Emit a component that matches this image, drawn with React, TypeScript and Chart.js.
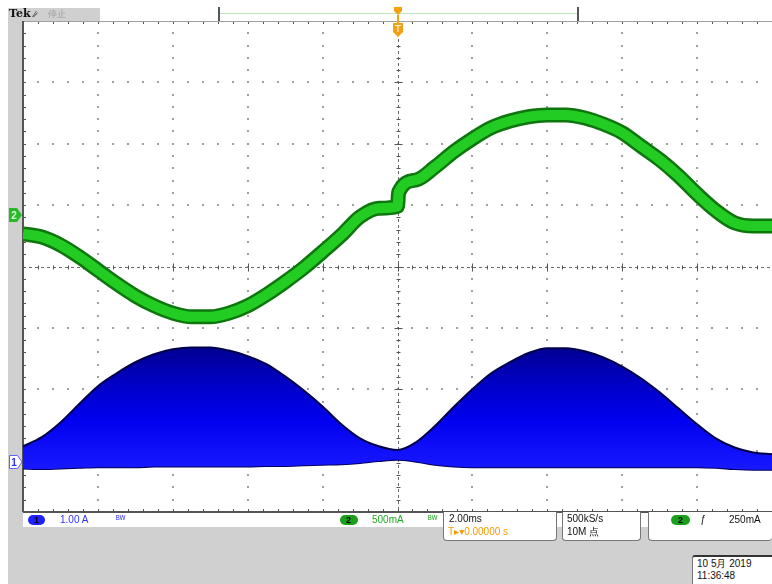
import React, { useEffect, useRef } from "react";
import { Chart, registerables } from "chart.js";

Chart.register(...registerables);

// ---- Data ----
// Horizontal: 2.00 ms/div, trigger at centre (0 ms)
const timeMs = [
  -10, -9.5, -9, -8.5, -8, -7.5, -7, -6.5, -6, -5.5, -5, -4.5, -4, -3.5, -3, -2.5, -2, -1.5, -1, -0.5, 0,
  0.5, 1, 1.5, 2, 2.5, 3, 3.5, 4, 4.5, 5, 5.5, 6, 6.5, 7, 7.5, 8, 8.5, 9, 9.5, 10,
];
// Channel 2 (green), 500 mA/div — includes the step just after the trigger
const ch2TimeMs = [
  -10, -9.5, -9, -8.5, -8, -7.5, -7, -6.5, -6, -5.5, -5, -4.5, -4, -3.5, -3, -2.5, -2, -1.5, -1, -0.5, 0,
  0.03, 0.5, 1, 1.5, 2, 2.5, 3, 3.5, 4, 4.5, 5, 5.5, 6, 6.5, 7, 7.5, 8, 8.5, 9, 9.5, 10,
];
const ch2mA = [
  -155, -180, -245, -340, -450, -560, -660, -740, -800, -830, -830, -800, -740, -650, -545, -430, -300, -165, -15, 55, 70,
  185, 285, 390, 515, 620, 710, 765, 800, 815, 815, 790, 740, 670, 560, 450, 320, 170, 35, -65, -90, -90,
];
// Channel 1 (blue), 1.00 A/div — upper and lower envelope of the chopped current
const ch1UpperA = [
  0.26, 0.41, 0.65, 0.95, 1.24, 1.45, 1.63, 1.76, 1.84, 1.87, 1.87, 1.82, 1.73, 1.6, 1.4, 1.17, 0.91, 0.62, 0.39, 0.26, 0.2,
  0.33, 0.59, 0.9, 1.19, 1.45, 1.63, 1.78, 1.86, 1.86, 1.81, 1.71, 1.56, 1.37, 1.14, 0.88, 0.62, 0.39, 0.24, 0.16, 0.13,
];
const ch1LowerA = [
  -0.1, -0.11, -0.1, -0.09, -0.08, -0.08, -0.08, -0.07, -0.07, -0.07, -0.07, -0.07, -0.07, -0.06, -0.06, -0.05, -0.04, -0.03, -0.01, 0.02, 0.04,
  0.01, -0.04, -0.07, -0.08, -0.08, -0.08, -0.08, -0.08, -0.08, -0.08, -0.08, -0.08, -0.08, -0.08, -0.08, -0.08, -0.09, -0.11, -0.12, -0.12,
];

// Channel settings
const CH1_SCALE_A = 1.0; // A/div
const CH1_POS_DIV = -3.19;
const CH2_SCALE_MA = 500; // mA/div
const CH2_POS_DIV = 0.84;

const FONT = '"Liberation Sans", "DejaVu Sans", sans-serif';

const toCh1 = (arr: number[]) => arr.map((v, i) => ({ x: timeMs[i], y: CH1_POS_DIV + v / CH1_SCALE_A }));
const toCh2 = () => ch2mA.map((v, i) => ({ x: ch2TimeMs[i], y: CH2_POS_DIV + v / CH2_SCALE_MA }));

const graticulePlugin = {
  id: "graticule",
  beforeDraw(chart: any) {
    const { ctx, chartArea: a } = chart;
    ctx.save();
    ctx.fillStyle = "#ffffff";
    ctx.fillRect(a.left, a.top, a.right - a.left, a.bottom - a.top);
    ctx.restore();
  },
  beforeDatasetsDraw(chart: any) {
    const { ctx, chartArea: a, scales } = chart;
    const xs = scales.x;
    const ys = scales.y;
    ctx.save();
    ctx.fillStyle = "#a0a0a0";
    // dotted vertical grid lines
    for (let i = 1; i < 10; i++) {
      const t = -10 + i * 2;
      if (t === 0) continue;
      const px = Math.round(xs.getPixelForValue(t));
      for (let j = 1; j < 40; j++) {
        const py = Math.round(ys.getPixelForValue(-4 + j * 0.2));
        ctx.fillRect(px - 1, py - 1, 2, 2);
      }
    }
    // dotted horizontal grid lines
    for (let i = 1; i < 8; i++) {
      const v = -4 + i;
      if (v === 0) continue;
      const py = Math.round(ys.getPixelForValue(v));
      for (let j = 1; j < 50; j++) {
        const px = Math.round(xs.getPixelForValue(-10 + j * 0.4));
        ctx.fillRect(px - 1, py - 1, 2, 2);
      }
    }
    // centre lines (dashed) with ticks
    const cx = Math.round(xs.getPixelForValue(0)) + 0.5;
    const cy = Math.round(ys.getPixelForValue(0)) + 0.5;
    ctx.strokeStyle = "#6a6a6a";
    ctx.lineWidth = 1;
    ctx.setLineDash([3, 3]);
    ctx.beginPath();
    ctx.moveTo(a.left, cy);
    ctx.lineTo(a.right, cy);
    ctx.moveTo(cx, a.top);
    ctx.lineTo(cx, a.bottom);
    ctx.stroke();
    ctx.setLineDash([]);
    ctx.strokeStyle = "#555";
    ctx.beginPath();
    for (let j = 1; j < 50; j++) {
      const px = Math.round(xs.getPixelForValue(-10 + j * 0.4)) + 0.5;
      const len = j % 5 === 0 ? 4 : 2;
      ctx.moveTo(px, cy - len);
      ctx.lineTo(px, cy + len);
      // top and bottom border ticks
      ctx.moveTo(px, a.top);
      ctx.lineTo(px, a.top + 3);
      ctx.moveTo(px, a.bottom);
      ctx.lineTo(px, a.bottom - 3);
    }
    for (let j = 1; j < 40; j++) {
      const py = Math.round(ys.getPixelForValue(-4 + j * 0.2)) + 0.5;
      const len = j % 5 === 0 ? 4 : 2;
      ctx.moveTo(cx - len, py);
      ctx.lineTo(cx + len, py);
      ctx.moveTo(a.left, py);
      ctx.lineTo(a.left + 3, py);
    }
    ctx.stroke();
    // borders
    ctx.strokeStyle = "#a0a0a0";
    ctx.beginPath();
    ctx.moveTo(a.left, a.top + 0.5);
    ctx.lineTo(a.right, a.top + 0.5);
    ctx.stroke();
    ctx.strokeStyle = "#555";
    ctx.lineWidth = 2;
    ctx.beginPath();
    ctx.moveTo(a.left, a.top);
    ctx.lineTo(a.left, a.bottom);
    ctx.moveTo(a.left, a.bottom);
    ctx.lineTo(a.right, a.bottom);
    ctx.stroke();
    ctx.restore();
  },
  afterDraw(chart: any) {
    const { ctx, scales } = chart;
    const xs = scales.x;
    const ys = scales.y;
    ctx.save();
    // trigger position marker (orange)
    const tx = Math.round(xs.getPixelForValue(0));
    ctx.fillStyle = "#f5a010";
    ctx.beginPath();
    ctx.moveTo(tx - 4, 7);
    ctx.lineTo(tx + 4, 7);
    ctx.lineTo(tx + 4, 11);
    ctx.lineTo(tx, 15);
    ctx.lineTo(tx - 4, 11);
    ctx.closePath();
    ctx.fill();
    ctx.fillRect(tx - 1, 15, 2, 8);
    ctx.beginPath();
    ctx.moveTo(tx - 5, 23);
    ctx.lineTo(tx + 5, 23);
    ctx.lineTo(tx + 5, 32);
    ctx.lineTo(tx, 37);
    ctx.lineTo(tx - 5, 32);
    ctx.closePath();
    ctx.fill();
    ctx.fillStyle = "#ffffff";
    ctx.fillRect(tx - 3, 25, 6, 1);
    ctx.fillRect(tx - 0.5, 25, 1, 7);

    // channel ground markers on the left strip
    const y2 = Math.round(ys.getPixelForValue(CH2_POS_DIV));
    ctx.fillStyle = "#28b828";
    ctx.beginPath();
    ctx.moveTo(9, y2 - 7);
    ctx.lineTo(17, y2 - 7);
    ctx.lineTo(22, y2);
    ctx.lineTo(17, y2 + 7);
    ctx.lineTo(9, y2 + 7);
    ctx.closePath();
    ctx.fill();
    ctx.fillStyle = "#d8ffd8";
    ctx.font = `bold 10px ${FONT}`;
    ctx.textAlign = "center";
    ctx.textBaseline = "middle";
    ctx.fillText("2", 14, y2 + 1);

    const y1 = Math.round(ys.getPixelForValue(CH1_POS_DIV));
    ctx.fillStyle = "#ffffff";
    ctx.strokeStyle = "#6060ff";
    ctx.lineWidth = 1;
    ctx.beginPath();
    ctx.moveTo(9.5, y1 - 6.5);
    ctx.lineTo(17.5, y1 - 6.5);
    ctx.lineTo(22, y1);
    ctx.lineTo(17.5, y1 + 6.5);
    ctx.lineTo(9.5, y1 + 6.5);
    ctx.closePath();
    ctx.fill();
    ctx.stroke();
    ctx.fillStyle = "#3030ff";
    ctx.fillText("1", 14, y1 + 1);
    ctx.restore();
  },
};

const blueFill = (c: any) => {
  const chart = c.chart;
  const a = chart.chartArea;
  if (!a) return "#0000ee";
  const ys = chart.scales.y;
  const g = chart.ctx.createLinearGradient(0, ys.getPixelForValue(CH1_POS_DIV + 1.9), 0, ys.getPixelForValue(CH1_POS_DIV - 0.1));
  g.addColorStop(0, "#000090");
  g.addColorStop(0.3, "#0000c4");
  g.addColorStop(0.6, "#0000ee");
  g.addColorStop(1, "#1818ff");
  return g;
};

function ScopeChart() {
  const ref = useRef<HTMLCanvasElement | null>(null);
  useEffect(() => {
    if (!ref.current) return;
    const chart = new Chart(ref.current, {
      type: "line",
      data: {
        datasets: [
          {
            label: "CH2 edge",
            data: toCh2(),
            borderColor: "#0d760d",
            borderWidth: 15,
            pointRadius: 0,
            cubicInterpolationMode: "monotone",
            fill: false,
            order: 3,
          },
          {
            label: "CH2",
            data: toCh2(),
            borderColor: "#22cc22",
            borderWidth: 10,
            pointRadius: 0,
            cubicInterpolationMode: "monotone",
            fill: false,
            order: 2,
          },
          {
            label: "CH1 low",
            data: toCh1(ch1LowerA),
            borderColor: "#00005a",
            borderWidth: 2,
            pointRadius: 0,
            cubicInterpolationMode: "monotone",
            fill: false,
            order: 5,
          },
          {
            label: "CH1 high",
            data: toCh1(ch1UpperA),
            borderColor: "#00004a",
            borderWidth: 2,
            pointRadius: 0,
            cubicInterpolationMode: "monotone",
            backgroundColor: blueFill,
            fill: "-1",
            order: 4,
          },
        ],
      },
      options: {
        responsive: false,
        animation: false,
        parsing: false as any,
        layout: { padding: { left: 23, top: 21, right: 0, bottom: 72 } },
        plugins: {
          legend: { display: false },
          tooltip: { enabled: false },
          title: { display: false },
        },
        scales: {
          x: { type: "linear", min: -10, max: 10, display: false },
          y: { type: "linear", min: -4, max: 4, display: false },
        },
      },
      plugins: [graticulePlugin],
    });
    return () => chart.destroy();
  }, []);
  return (
    <canvas
      ref={ref}
      width={772}
      height={584}
      style={{ position: "absolute", left: 0, top: 0, width: 772, height: 584, zIndex: 1 }}
    />
  );
}

const txt = (extra: React.CSSProperties): React.CSSProperties => ({
  position: "absolute",
  fontFamily: FONT,
  fontSize: 10,
  lineHeight: "12px",
  whiteSpace: "nowrap",
  ...extra,
});

const box = (left: number, top: number, width: number, height: number): React.CSSProperties => ({
  position: "absolute",
  left,
  top,
  width,
  height,
  background: "#ffffff",
  border: "1px solid #777",
  borderTop: "none",
  borderRadius: "0 0 4px 4px",
  boxSizing: "border-box",
});

export default function App() {
  const GRAY = "#d0d0d0";
  return (
    <div style={{ position: "fixed", left: 0, top: 0, width: 772, height: 584, background: "#ffffff", overflow: "hidden" }}>
      {/* frame */}
      <div style={{ position: "absolute", left: 8, top: 8, width: 15, height: 540, background: GRAY }} />
      <div style={{ position: "absolute", left: 8, top: 8, width: 92, height: 13, background: GRAY }} />
      <div style={{ position: "absolute", left: 8, top: 527, width: 764, height: 57, background: GRAY }} />
      {/* record view bar */}
      <div style={{ position: "absolute", left: 219, top: 13, width: 359, height: 1, background: "#b9e6b9" }} />
      <div style={{ position: "absolute", left: 218, top: 7, width: 2, height: 14, background: "#555" }} />
      <div style={{ position: "absolute", left: 577, top: 7, width: 2, height: 14, background: "#555" }} />

      <ScopeChart />

      {/* top-left label */}
      <div style={txt({ left: 9, top: 8, fontWeight: "bold", fontSize: 11, color: "#111", zIndex: 2, fontFamily: '"DejaVu Serif", serif' })}>Tek</div>
      <div style={txt({ left: 34, top: 8, fontSize: 9, color: "#333", zIndex: 2 })}>⁄̷</div>
      <div style={txt({ left: 48, top: 8, fontSize: 9, color: "#9a9a9a", zIndex: 2 })}>停止</div>

      {/* status bar, channel row */}
      <div style={{ position: "absolute", left: 23, top: 513, width: 420, height: 14, background: "#fff", zIndex: 2 }} />
      <div style={{ position: "absolute", left: 28, top: 515, width: 17, height: 10, borderRadius: 5, background: "#2020ff", zIndex: 3 }} />
      <div style={txt({ left: 34, top: 514, fontSize: 9, fontWeight: "bold", color: "#000", zIndex: 4 })}>1</div>
      <div style={txt({ left: 60, top: 514, color: "#3030ff", zIndex: 3 })}>1.00 A</div>
      <div style={txt({ left: 116, top: 513, fontSize: 9, color: "#3030ff", zIndex: 3 })}>ᴮᵂ</div>
      <div style={{ position: "absolute", left: 340, top: 515, width: 18, height: 10, borderRadius: 5, background: "#1aa01a", zIndex: 3 }} />
      <div style={txt({ left: 346, top: 514, fontSize: 9, fontWeight: "bold", color: "#000", zIndex: 4 })}>2</div>
      <div style={txt({ left: 372, top: 514, color: "#22aa22", zIndex: 3 })}>500mA</div>
      <div style={txt({ left: 428, top: 513, fontSize: 9, color: "#22aa22", zIndex: 3 })}>ᴮᵂ</div>

      {/* timebase box */}
      <div style={{ ...box(443, 512, 114, 29), zIndex: 2 }} />
      <div style={txt({ left: 449, top: 513, color: "#111", zIndex: 3 })}>2.00ms</div>
      <div style={txt({ left: 448, top: 526, color: "#f59a00", zIndex: 3 })}>T▸▾0.00000 s</div>

      {/* acquisition box */}
      <div style={{ ...box(562, 512, 79, 29), zIndex: 2 }} />
      <div style={txt({ left: 567, top: 513, color: "#111", zIndex: 3 })}>500kS/s</div>
      <div style={txt({ left: 567, top: 526, color: "#111", zIndex: 3 })}>10M 点</div>

      {/* trigger box */}
      <div style={{ ...box(648, 512, 124, 29), borderRight: "none", zIndex: 2 }} />
      <div style={{ position: "absolute", left: 671, top: 515, width: 19, height: 10, borderRadius: 5, background: "#1aa01a", zIndex: 3 }} />
      <div style={txt({ left: 678, top: 514, fontSize: 9, fontWeight: "bold", color: "#000", zIndex: 4 })}>2</div>
      <div style={txt({ left: 700, top: 514, color: "#111", fontStyle: "italic", zIndex: 3 })}>ƒ</div>
      <div style={txt({ left: 729, top: 514, color: "#111", zIndex: 3 })}>250mA</div>

      {/* date/time box */}
      <div style={{ position: "absolute", left: 692, top: 555, width: 80, height: 29, background: "#fff", borderTop: "2px solid #333", borderLeft: "1px solid #777", borderRadius: "3px 0 0 0", boxSizing: "border-box", zIndex: 2 }} />
      <div style={txt({ left: 697, top: 558, color: "#111", zIndex: 3 })}>10 5月 2019</div>
      <div style={txt({ left: 697, top: 570, color: "#111", zIndex: 3 })}>11:36:48</div>
    </div>
  );
}
